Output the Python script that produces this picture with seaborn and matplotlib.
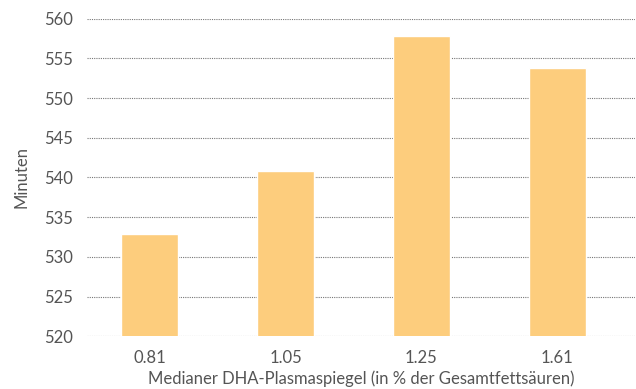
import matplotlib
matplotlib.use("Agg")
import matplotlib.pyplot as plt
import seaborn as sns
import pandas as pd

# data
dha_levels = ["0.81", "1.05", "1.25", "1.61"]
minutes = [532.9, 540.8, 557.8, 553.8]
y_ticks = [520, 525, 530, 535, 540, 545, 550, 555, 560]

df = pd.DataFrame({"dha": dha_levels, "minutes": minutes})

sns.set_theme(style="white")
plt.rcParams["font.family"] = ["Lato", "DejaVu Sans"]

fig = plt.figure(figsize=(6.36, 3.89), dpi=100)
ax = fig.add_axes([0.137, 0.1355, 0.861, 0.8165])

sns.barplot(data=df, x="dha", y="minutes", color="#fdcd7d", saturation=1,
            width=0.42, ax=ax, zorder=3)

ax.set_ylim(520, 560)
ax.set_xlim(-0.46, 3.57)
ax.set_yticks(y_ticks)
ax.yaxis.grid(True, linestyle=(0, (1, 1)), color="#777777", linewidth=0.8, zorder=0)
ax.xaxis.grid(False)
for s in ax.spines.values():
    s.set_visible(False)
ax.tick_params(axis="y", length=0, labelsize=12, labelcolor="#555555", pad=10)
ax.tick_params(axis="x", length=0, labelsize=12, labelcolor="#555555", pad=10)

ax.set_xlabel("Medianer DHA-Plasmaspiegel (in % der Gesamtfettsäuren)",
              fontsize=12, color="#555555", labelpad=3)
ax.set_ylabel("Minuten", fontsize=12, color="#555555", labelpad=11)

fig.savefig("out.png", dpi=100)
